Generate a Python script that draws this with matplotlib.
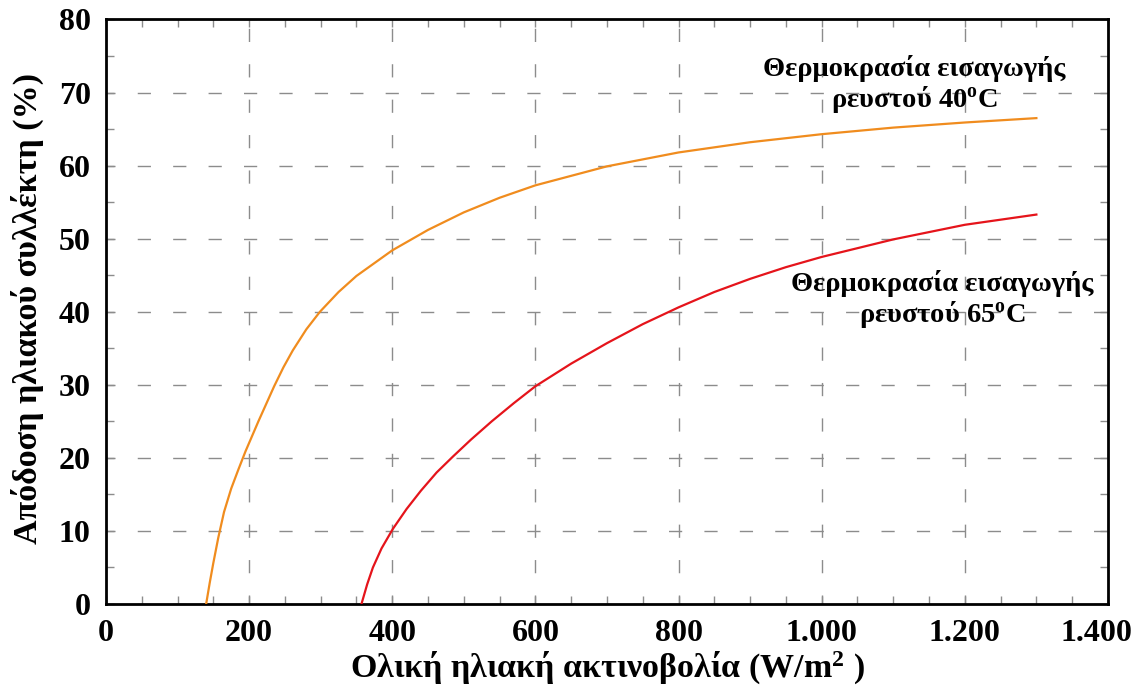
import matplotlib
matplotlib.use("Agg")
import matplotlib.pyplot as plt
from matplotlib.ticker import MultipleLocator, FuncFormatter
from matplotlib.transforms import ScaledTranslation

plt.rcParams["font.family"] = ["Liberation Serif", "DejaVu Serif"]
plt.rcParams["font.weight"] = "bold"
plt.rcParams["mathtext.fontset"] = "custom"
plt.rcParams["mathtext.rm"] = "Liberation Serif:bold"
plt.rcParams["mathtext.bf"] = "Liberation Serif:bold"
plt.rcParams["mathtext.it"] = "Liberation Serif:bold"

# Irradiance (W/m2) vs collector efficiency (%), inlet fluid at 40 C
irr_40 = [140, 145, 150, 157, 165, 175, 185, 195, 213, 235, 248, 261, 280, 299,
          325, 350, 400, 450, 500, 550, 600, 700, 800, 900, 1000, 1100, 1200, 1300]
eff_40 = [0, 2.9, 5.6, 9.1, 12.6, 15.8, 18.4, 20.9, 25, 29.8, 32.4, 34.7, 37.6, 40.0,
          42.7, 44.9, 48.4, 51.2, 53.6, 55.6, 57.3, 59.9, 61.8, 63.2, 64.3, 65.2, 65.9, 66.5]

# Inlet fluid at 65 C
irr_65 = [357, 365, 373, 385, 401, 420, 440, 462, 485, 510, 539, 570, 600, 650, 700,
          750, 800, 850, 900, 950, 1000, 1100, 1200, 1300]
eff_65 = [0, 2.7, 5, 7.6, 10.3, 13, 15.5, 18, 20.2, 22.5, 25, 27.5, 29.8, 32.9, 35.7,
          38.3, 40.6, 42.7, 44.5, 46.1, 47.5, 49.9, 51.9, 53.3]

x_ticks = [0, 200, 400, 600, 800, 1000, 1200, 1400]
y_ticks = [0, 10, 20, 30, 40, 50, 60, 70, 80]

label_40 = "Θερμοκρασία εισαγωγής\nρευστού 40$^{\\mathbf{o}}$C"
label_65 = "Θερμοκρασία εισαγωγής\nρευστού 65$^{\\mathbf{o}}$C"

fig = plt.figure(figsize=(11.38, 6.93), dpi=100)
ax = fig.add_axes([0.0931, 0.1284, 0.8805, 0.8435])

ax.plot(irr_40, eff_40, color="#F08C1E", lw=1.6, zorder=3)
ax.plot(irr_65, eff_65, color="#E5141B", lw=1.6, zorder=3)

ax.set_xlim(0, 1400)
ax.set_ylim(0, 80)
ax.set_xticks(x_ticks)
ax.set_yticks(y_ticks)
ax.xaxis.set_minor_locator(MultipleLocator(50))
ax.yaxis.set_minor_locator(MultipleLocator(5))
ax.xaxis.set_major_formatter(FuncFormatter(lambda v, p: f"{int(v):,}".replace(",", ".")))

ax.grid(True, which="major", color="#8c8c8c", lw=1.0, linestyle=(3, (9.5, 16)))
ax.set_axisbelow(True)

ax.tick_params(which="both", direction="in", top=True, right=True, color="#8c8c8c",
               width=1.0, labelsize=23, pad=11)
ax.tick_params(which="major", length=6)
ax.tick_params(which="minor", length=6)

for s in ax.spines.values():
    s.set_linewidth(2.0)
    s.set_color("black")

ax.set_xlabel("Ολική ηλιακή ακτινοβολία (W/m$^{\\mathbf{2}}$ )", fontsize=24.5, fontweight="bold")
ax.xaxis.set_label_coords(0.5, -0.079)
ax.set_ylabel("Απόδοση ηλιακού συλλέκτη (%)", fontsize=24.5, fontweight="bold")
ax.yaxis.set_label_coords(-0.062, 0.506)

ax.text(1129, 71.0, label_40, ha="center", va="center", fontsize=20.5, fontweight="bold",
        linespacing=1.1, zorder=4)
ax.text(1168, 41.6, label_65, ha="center", va="center", fontsize=20.5, fontweight="bold",
        linespacing=1.1, zorder=4)

fig.canvas.draw()
for lbl in ax.get_xticklabels() + ax.get_yticklabels():
    lbl.set_fontweight("bold")
last = ax.get_xticklabels()[-1]
last.set_transform(last.get_transform() + ScaledTranslation(-0.12, 0, fig.dpi_scale_trans))

fig.savefig("out.png", dpi=100)
